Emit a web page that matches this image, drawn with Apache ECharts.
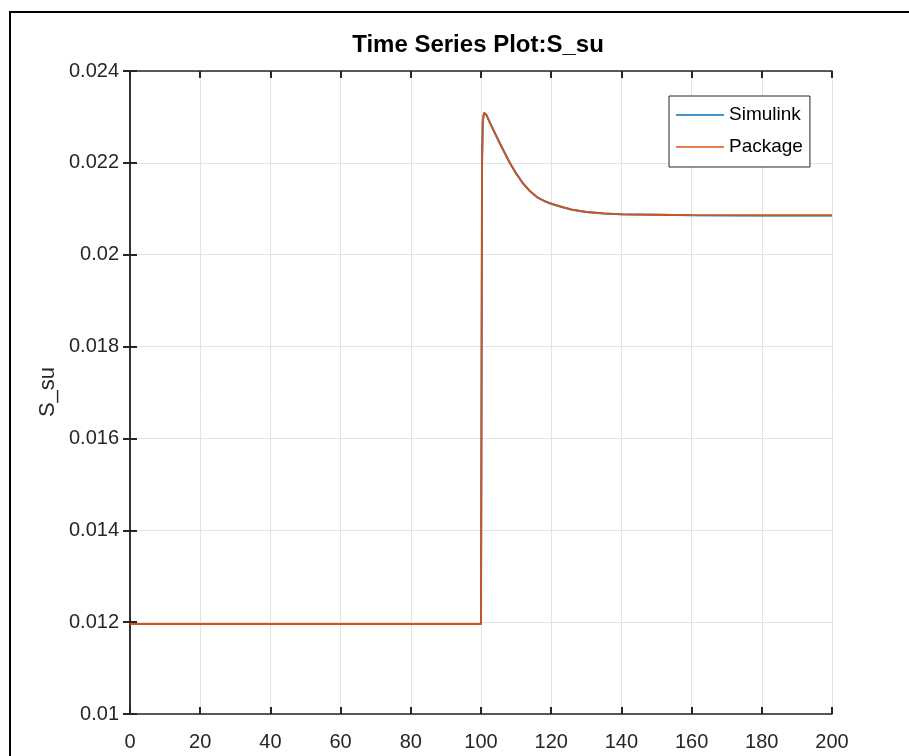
<!DOCTYPE html>
<html>
<head>
<meta charset="utf-8">
<script src="https://cdn.jsdelivr.net/npm/echarts@6/dist/echarts.min.js"></script>
<style>html,body{margin:0;padding:0;background:#fff;}#c{width:909px;height:756px;}</style>
</head>
<body>
<div id="c"></div>
<script>
const timeValues = [0, 20, 40, 60, 80, 100, 100.3, 100.5, 100.85, 101.5, 102.5, 104, 106, 108, 110, 112, 114, 116, 118, 120, 123, 126, 130, 135, 140, 150, 160, 180, 200];
const simulinkValues = [0.01196, 0.01196, 0.01196, 0.01196, 0.01196, 0.01196, 0.0220, 0.02290, 0.02309, 0.02305, 0.02288, 0.02264, 0.02233, 0.02203, 0.02177, 0.02155, 0.02138, 0.02125, 0.02117, 0.02111, 0.02104, 0.02098, 0.02093, 0.02090, 0.02088, 0.02087, 0.02086, 0.020855, 0.020855];
const packageValues = [0.01196, 0.01196, 0.01196, 0.01196, 0.01196, 0.01196, 0.0220, 0.02290, 0.02309, 0.02305, 0.02288, 0.02264, 0.02233, 0.02203, 0.02177, 0.02155, 0.02138, 0.02125, 0.02117, 0.02111, 0.02104, 0.02098, 0.02093, 0.02090, 0.02088, 0.02087, 0.02086, 0.020855, 0.020855];
const seriesNames = ['Simulink', 'Package'];
const titleText = 'Time Series Plot:S_su';
const yAxisLabel = 'S_su';

const chart = echarts.init(document.getElementById('c'));
const font = '"Liberation Sans", Arial, sans-serif';
const axisColor = '#262626';
const pairs = (vals) => timeValues.map((t, i) => [t, vals[i]]);

const baseX = {
  type: 'value', min: 0, max: 200, interval: 20,
  axisLine: { show: true, lineStyle: { color: axisColor, width: 1.5 } },
  axisTick: { show: true, inside: true, length: 7, lineStyle: { color: axisColor, width: 2 } },
  splitLine: { show: false }
};
const baseY = {
  type: 'value', min: 0.01, max: 0.024, interval: 0.002,
  axisLine: { show: true, lineStyle: { color: axisColor, width: 1.5 } },
  axisTick: { show: true, inside: true, length: 7, lineStyle: { color: axisColor, width: 2 } },
  splitLine: { show: false }
};

chart.setOption({
  animation: false,
  backgroundColor: '#fff',
  grid: { left: 130, right: 77, top: 71, bottom: 42, containLabel: false },
  xAxis: [
    Object.assign({}, baseX, {
      position: 'bottom',
      axisLabel: { show: true, color: axisColor, fontSize: 20, fontFamily: font, margin: 18 },
      splitLine: { show: true, lineStyle: { color: '#e3e3e3', width: 1 } }
    }),
    Object.assign({}, baseX, { position: 'top', axisLabel: { show: false } })
  ],
  yAxis: [
    Object.assign({}, baseY, {
      position: 'left',
      axisLabel: { show: true, color: axisColor, fontSize: 20, fontFamily: font, margin: 11,
        formatter: (v) => String(parseFloat(v.toFixed(4))) },
      splitLine: { show: true, lineStyle: { color: '#e3e3e3', width: 1 } }
    }),
    Object.assign({}, baseY, { position: 'right', axisLabel: { show: false } })
  ],
  legend: {
    orient: 'vertical', left: 669, top: 96,
    data: seriesNames,
    icon: 'rect', itemWidth: 48, itemHeight: 1.5, itemGap: 12,
    padding: [9, 7, 10, 7],
    borderColor: axisColor, borderWidth: 1, backgroundColor: '#fff',
    textStyle: { fontSize: 19, fontFamily: font, color: '#000', lineHeight: 20 }
  },
  graphic: [
    { type: 'rect', shape: { x: 10, y: 12, width: 1000, height: 1000 }, style: { fill: 'none', stroke: '#000', lineWidth: 2 }, z: 100 },
    { type: 'text', x: 478, y: 45, style: { text: titleText, font: 'bold 24px ' + font, fill: '#000', textAlign: 'center', textVerticalAlign: 'middle' } },
    { type: 'text', x: 48, y: 392, rotation: Math.PI / 2, style: { text: yAxisLabel, font: '22px ' + font, fill: axisColor, textAlign: 'center', textVerticalAlign: 'middle' } }
  ],
  series: [
    { name: seriesNames[0], type: 'line', data: pairs(simulinkValues), showSymbol: false, symbol: 'none', lineStyle: { color: '#0072BD', width: 2 }, itemStyle: { color: '#0072BD' }, z: 2 },
    { name: seriesNames[1], type: 'line', data: pairs(packageValues), showSymbol: false, symbol: 'none', lineStyle: { color: '#D95319', width: 1.8 }, itemStyle: { color: '#D95319' }, z: 3 }
  ]
});
</script>
</body>
</html>
